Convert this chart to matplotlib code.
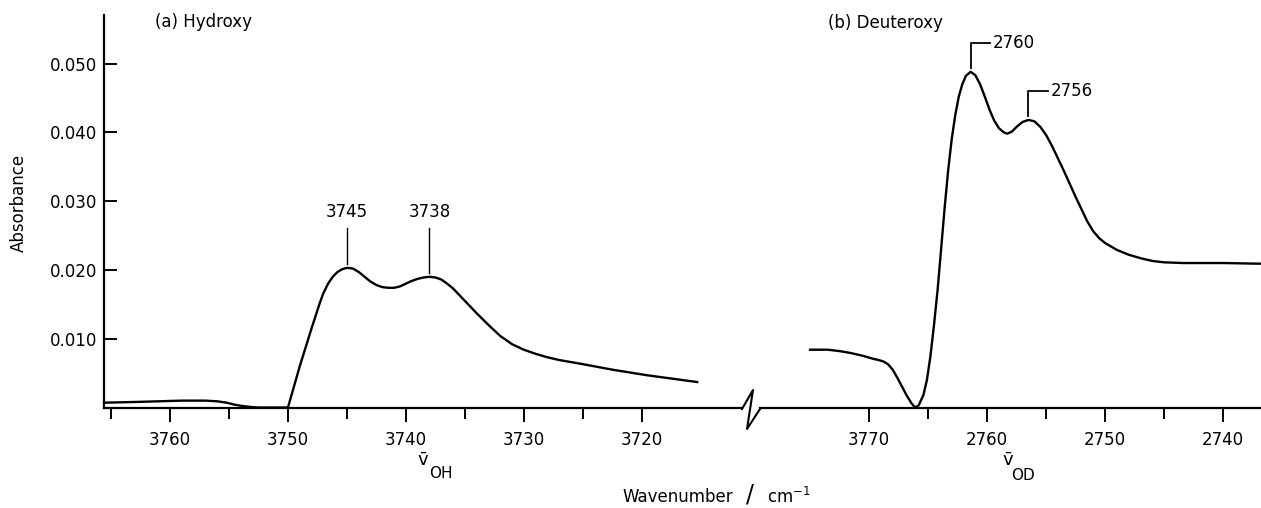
import matplotlib
matplotlib.use('Agg')
import matplotlib.pyplot as plt
import numpy as np
from matplotlib.lines import Line2D

# (a) hydroxy band, wavenumber / cm-1 and absorbance
oh_x = [3765.6, 3763.0, 3761.0, 3759.0, 3757.0, 3756.0, 3755.2, 3754.5, 3753.8,
        3753.0, 3752.5, 3750.0, 3749.0, 3748.0, 3747.3, 3747.0, 3746.6, 3746.2,
        3745.8, 3745.4, 3745.0, 3744.5, 3744.0, 3743.5, 3743.0, 3742.5, 3742.0,
        3741.5, 3741.0, 3740.5, 3740.0, 3739.5, 3739.0, 3738.5, 3738.0, 3737.5,
        3737.0, 3736.5, 3736.0, 3735.5, 3735.0, 3734.5, 3734.0, 3733.0, 3732.0,
        3731.0, 3730.0, 3729.0, 3728.0, 3727.0, 3725.0, 3722.5, 3719.6, 3715.3]
oh_y = [0.0007, 0.0008, 0.0009, 0.0010, 0.0010, 0.0009, 0.0007, 0.0004, 0.0002,
        0.00005, 0.0, 0.0, 0.0060, 0.0115, 0.0152, 0.0166, 0.0180, 0.0190,
        0.0197, 0.0201, 0.0203, 0.0202, 0.0197, 0.0190, 0.0183, 0.0178, 0.0175,
        0.0174, 0.0174, 0.0176, 0.0180, 0.0184, 0.0187, 0.0189, 0.0190, 0.0189,
        0.0186, 0.0180, 0.0173, 0.0164, 0.0155, 0.0146, 0.0137, 0.0120, 0.0104,
        0.0092, 0.0084, 0.0078, 0.0073, 0.0069, 0.0063, 0.0055, 0.0047, 0.0037]

# (b) deuteroxy band
od_x = [2775.0, 2773.5, 2772.5, 2771.5, 2770.5, 2769.7, 2769.2, 2768.8, 2768.4,
        2768.0, 2767.6, 2767.2, 2766.8, 2766.4, 2766.1, 2765.8, 2765.4, 2765.1,
        2764.8, 2764.5, 2764.2, 2763.9, 2763.6, 2763.3, 2763.0, 2762.7, 2762.4,
        2762.1, 2761.8, 2761.4, 2761.0, 2760.6, 2760.2, 2759.8, 2759.4, 2759.0,
        2758.6, 2758.3, 2757.9, 2757.5, 2757.0, 2756.5, 2756.0, 2755.5, 2755.0,
        2754.5, 2754.0, 2753.5, 2753.0, 2752.5, 2752.0, 2751.5, 2751.0, 2750.5,
        2750.0, 2749.0, 2748.0, 2747.0, 2746.0, 2745.0, 2743.4, 2740.0, 2736.9]
od_y = [0.0084, 0.0084, 0.0082, 0.0079, 0.0075, 0.0071, 0.0069, 0.0067, 0.0063,
        0.0055, 0.0043, 0.0030, 0.0017, 0.0006, 0.0, 0.0003, 0.0018, 0.0040,
        0.0075, 0.0120, 0.0170, 0.0230, 0.0290, 0.0345, 0.0390, 0.0425, 0.0452,
        0.0470, 0.0482, 0.0488, 0.0483, 0.0470, 0.0452, 0.0433, 0.0417, 0.0406,
        0.0400, 0.0398, 0.0401, 0.0408, 0.0415, 0.0418, 0.0416, 0.0408, 0.0396,
        0.0380, 0.0362, 0.0344, 0.0325, 0.0306, 0.0288, 0.0270, 0.0256, 0.0246,
        0.0239, 0.0229, 0.0222, 0.0217, 0.0213, 0.0211, 0.0210, 0.0210, 0.0209]

oh_peaks = [3745.0, 3738.0]
oh_peak_labels = ['3745', '3738']
od_peaks = [2761.4, 2756.5]
od_peak_labels = ['2760', '2756']

y_ticks = [0.010, 0.020, 0.030, 0.040, 0.050]
y_labels = ['0.010', '0.020', '0.030', '0.040', '0.050']
oh_major = [3760, 3750, 3740, 3730, 3720]
oh_minor = [3765, 3755, 3745, 3735, 3725]
od_major = [2770, 2760, 2750, 2740]
od_tick_labels = ['3770', '2760', '2750', '2740']
od_minor = [2765, 2755, 2745]

plt.rcParams['font.family'] = ['DejaVu Sans']
plt.rcParams['font.size'] = 12
plt.rcParams['mathtext.fontset'] = 'dejavusans'

W, H = 1261, 508
fig = plt.figure(figsize=(W / 100, H / 100), dpi=100)
bottom = 1 - 407.5 / H
height = (407.5 - 15) / H
ax1 = fig.add_axes([104 / W, bottom, 638 / W, height])
ax2 = fig.add_axes([760 / W, bottom, 501 / W, height])

ymax = 0.05705
ax1.set_xlim(3765.6, 3711.5)
ax2.set_xlim(2779.24, 2736.8)
for ax in (ax1, ax2):
    ax.set_ylim(0, ymax)
    ax.spines['top'].set_visible(False)
    ax.spines['right'].set_visible(False)
    ax.spines['bottom'].set_linewidth(1.6)
    ax.spines['left'].set_linewidth(1.6)
    ax.tick_params(axis='x', which='major', direction='out', length=10,
                   width=1.4, pad=7, labelsize=12)
    ax.tick_params(axis='x', which='minor', direction='out', length=8,
                   width=1.4)
    ax.patch.set_alpha(0)

ax2.spines['left'].set_visible(False)
ax2.set_yticks([])

ax1.set_yticks(y_ticks)
ax1.set_yticklabels(y_labels)
ax1.tick_params(axis='y', direction='in', length=9, width=1.4, pad=5,
                labelsize=12)

ax1.set_xticks(oh_major)
ax1.set_xticks(oh_minor, minor=True)
ax2.set_xticks(od_major)
ax2.set_xticklabels(od_tick_labels)
ax2.set_xticks(od_minor, minor=True)

ax1.plot(oh_x, oh_y, color='black', lw=1.7, clip_on=False,
         solid_joinstyle='round')
ax2.plot(od_x, od_y, color='black', lw=1.7, clip_on=False,
         solid_joinstyle='round')

# peak markers, (a): plain vertical lines with labels above
for px, lab in zip(oh_peaks, oh_peak_labels):
    top = np.interp(px, oh_x[::-1], oh_y[::-1])
    ax1.plot([px, px], [top + 0.0005, 0.0261], color='black', lw=1)
    ax1.text(px, 0.0284, lab, ha='center', va='center', fontsize=12)

# (b): hooked lines with labels to the right
for px, lab in zip(od_peaks, od_peak_labels):
    top = np.interp(px, od_x[::-1], od_y[::-1])
    yh = top + 0.0042
    ax2.plot([px, px, px - 1.65], [top + 0.0006, yh, yh], color='black', lw=1.3)
    ax2.text(px - 1.85, yh, lab, ha='left', va='center', fontsize=12)

# axis break zigzag
zx = [742, 753, 747, 760]
zy = [409, 390, 429, 409]
fig.add_artist(Line2D([x / W for x in zx], [1 - y / H for y in zy],
                      transform=fig.transFigure, color='black', lw=1.5))

fig.text(155 / W, 1 - 22 / H, '(a) Hydroxy', ha='left', va='center',
         fontsize=12)
fig.text(828 / W, 1 - 23 / H, '(b) Deuteroxy', ha='left', va='center',
         fontsize=12)
fig.text(19 / W, 1 - 203 / H, 'Absorbance', rotation=90, ha='center',
         va='center', fontsize=12)

fig.text(423 / W, 1 - 461 / H, r'$\bar{\mathrm{v}}$', ha='center',
         va='center', fontsize=13)
fig.text(429 / W, 1 - 474 / H, 'OH', ha='left', va='center', fontsize=11)
fig.text(1008 / W, 1 - 461 / H, r'$\bar{\mathrm{v}}$', ha='center',
         va='center', fontsize=13)
fig.text(1011 / W, 1 - 476 / H, 'OD', ha='left', va='center', fontsize=11)

fig.text(733 / W, 1 - 497 / H, 'Wavenumber', ha='right', va='center',
         fontsize=12)
fig.text(750 / W, 1 - 495 / H, '/', ha='center', va='center', fontsize=17)
fig.text(767 / W, 1 - 497 / H, r'cm$^{-1}$', ha='left', va='center',
         fontsize=12)

fig.savefig('out.png', dpi=100)
